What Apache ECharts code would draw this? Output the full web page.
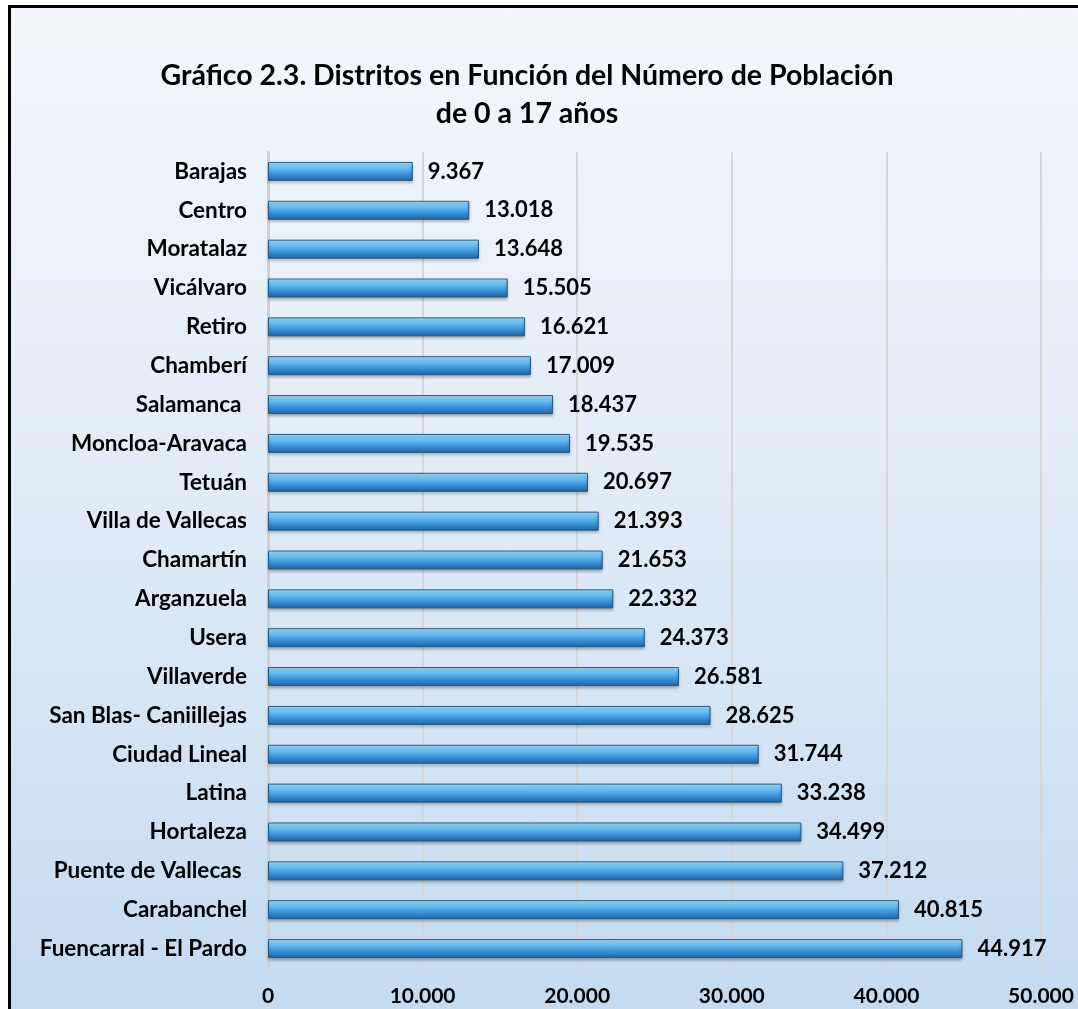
<!DOCTYPE html>
<html>
<head>
<meta charset="utf-8">
<script src="https://cdn.jsdelivr.net/npm/echarts@6/dist/echarts.min.js"></script>
<style>
html,body{margin:0;padding:0;background:#fff;}
#frame{position:absolute;left:8px;top:5px;width:1080px;height:1020px;border:3px solid #000;
  background:linear-gradient(to bottom,#f3f7fc 0%,#e2ecf7 45%,#c3daef 100%);}
#chart{position:absolute;left:0;top:0;width:1078px;height:1009px;}
</style>
</head>
<body>
<div id="frame"></div>
<div id="chart"></div>
<script>
var distritos = ['Barajas','Centro','Moratalaz','Vicálvaro','Retiro','Chamberí','Salamanca ','Moncloa-Aravaca','Tetuán','Villa de Vallecas','Chamartín','Arganzuela','Usera','Villaverde','San Blas- Caniillejas','Ciudad Lineal','Latina','Hortaleza','Puente de Vallecas ','Carabanchel','Fuencarral - El Pardo'];
var poblacion = [9367,13018,13648,15505,16621,17009,18437,19535,20697,21393,21653,22332,24373,26581,28625,31744,33238,34499,37212,40815,44917];

var chart = echarts.init(document.getElementById('chart'));

function fmt(v){
  return String(v).replace(/\B(?=(\d{3})+(?!\d))/g,'.');
}

chart.setOption({
  backgroundColor:'transparent',
  title:{
    text:'Gráfico 2.3. Distritos en Función del Número de Población\nde 0 a 17 años',
    left:522, top:52, textAlign:'center',
    textStyle:{fontFamily:'Lato',fontWeight:'bold',fontSize:28.5,color:'#000',lineHeight:38}
  },
  grid:{left:268,right:37,top:152,bottom:41,containLabel:false},
  xAxis:{
    type:'value', min:0, max:50000, interval:10000,
    axisLine:{show:false}, axisTick:{show:false},
    splitLine:{lineStyle:{color:'#d6d6d6',width:2}},
    axisLabel:{formatter:fmt,fontFamily:'Lato',fontWeight:'bold',fontSize:21,color:'#000',margin:18}
  },
  yAxis:{
    type:'category', data:distritos, inverse:true,
    axisLine:{lineStyle:{color:'#d0d0d0',width:3}}, axisTick:{show:false},
    axisLabel:{fontFamily:'Lato',fontWeight:'bold',fontSize:22.5,color:'#000',margin:21}
  },
  series:[{
    type:'bar', data:poblacion, barWidth:19,
    itemStyle:{
      color:new echarts.graphic.LinearGradient(0,0,0,1,[
        {offset:0,color:'#b8e6fd'},
        {offset:0.25,color:'#72c6f4'},
        {offset:0.6,color:'#3f97dc'},
        {offset:1,color:'#22639f'}
      ]),
      borderColor:'#25598a', borderWidth:1,
      shadowColor:'rgba(0,0,0,0.3)', shadowBlur:3, shadowOffsetY:2
    },
    label:{show:true,position:'right',distance:15,formatter:function(p){return fmt(p.value);},
      fontFamily:'Lato',fontWeight:'bold',fontSize:22,color:'#000'}
  }]
});
</script>
</body>
</html>
